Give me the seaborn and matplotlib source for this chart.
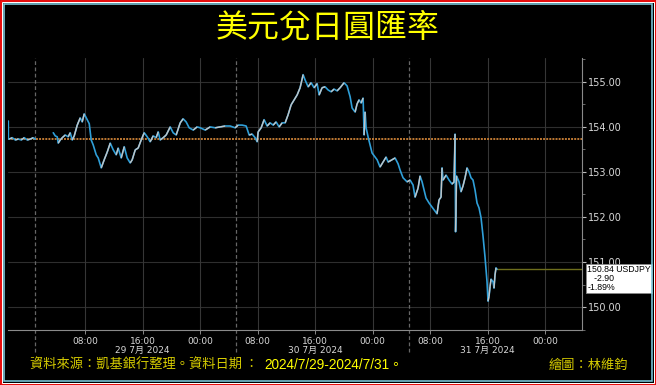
import numpy as np
import pandas as pd
import matplotlib
matplotlib.use("Agg")
import matplotlib.pyplot as plt
import matplotlib.transforms as mtransforms
from matplotlib.collections import LineCollection
from matplotlib.patches import Rectangle
import seaborn as sns

# ---------------- data (hours from 29 Jul 00:00, USDJPY price) ----------------
pre_hours = [-2.71, -2.70, -2.57, -2.16, -1.74, -1.32, -0.90, -0.49, -0.07, 0.35, 0.76, 1.04]
pre_price = [154.13, 153.73, 153.73, 153.76, 153.71, 153.73, 153.71, 153.76, 153.71, 153.73, 153.76, 153.73]

main_hours = [3.55, 3.83, 4.10, 4.24, 4.52, 4.80, 5.22, 5.63, 5.91, 6.19, 6.47, 6.89, 7.30, 7.58, 7.86,
              8.28, 8.56, 8.83, 9.11, 9.53, 9.81, 10.23, 10.64, 11.06, 11.48, 11.90, 12.31, 12.59, 13.01,
              13.43, 13.84, 14.26, 14.54, 14.96, 15.37, 15.79, 16.21, 16.63, 17.04, 17.46, 17.88, 18.16,
              18.43, 18.85, 19.27, 19.83, 20.24, 20.66, 21.22, 21.63, 22.05, 22.47, 23.03, 23.58, 24.00,
              24.70, 25.39, 26.09, 26.78, 27.48, 28.17, 28.87, 29.29, 29.84, 30.40, 30.82, 31.23, 31.65,
              31.93, 32.07, 32.49, 32.90, 33.32, 33.74, 34.16, 34.57, 34.99, 35.41, 35.83, 36.24, 36.66,
              37.08, 37.50, 37.91, 38.33, 38.61, 39.03, 39.44, 39.86, 40.28, 40.56, 40.97, 41.39, 41.81,
              42.23, 42.64, 43.06, 43.48, 44.03, 44.45, 44.87, 45.15, 45.57, 45.84, 46.12, 46.40, 46.68,
              46.82, 46.96, 47.10, 47.37, 47.65, 47.93, 48.35, 48.63, 49.04, 49.46, 49.88, 50.16, 50.71,
              51.13, 51.55, 51.83, 52.24, 52.80, 53.22, 53.63, 53.91, 54.33, 54.61, 54.89, 55.17, 55.44,
              55.86, 56.28, 56.70, 56.97, 57.25, 57.53, 57.67, 57.81, 58.23, 58.64, 59.06, 59.34, 59.48,
              59.55, 59.69, 60.03, 60.31, 60.59, 60.87, 61.15, 61.43, 61.70, 61.98, 62.26, 62.54, 62.82,
              63.10, 63.37, 63.65, 63.93, 64.07, 64.21, 64.35, 64.49, 64.77, 64.90, 65.04, 65.18, 65.32]
main_price = [153.87, 153.80, 153.78, 153.64, 153.71, 153.76, 153.82, 153.78, 153.87, 153.71, 153.80,
              154.04, 154.20, 154.11, 154.29, 154.16, 154.07, 153.71, 153.60, 153.38, 153.31, 153.09,
              153.27, 153.44, 153.64, 153.49, 153.38, 153.53, 153.31, 153.56, 153.31, 153.20, 153.27,
              153.49, 153.53, 153.71, 153.87, 153.78, 153.67, 153.80, 153.76, 153.89, 153.71, 153.76,
              153.82, 154.00, 153.87, 153.82, 154.09, 154.18, 154.11, 153.98, 153.93, 154.00, 153.98,
              153.93, 154.00, 153.98, 154.00, 154.02, 154.02, 153.98, 154.04, 154.04, 154.02, 153.82,
              153.84, 153.76, 153.67, 153.89, 153.98, 154.16, 154.02, 154.09, 154.04, 154.11, 154.00,
              154.09, 154.09, 154.27, 154.49, 154.60, 154.71, 154.87, 155.16, 155.04, 154.89, 154.98,
              154.87, 154.96, 154.71, 154.87, 154.89, 154.82, 154.78, 154.84, 154.80, 154.87, 154.98,
              154.91, 154.67, 154.42, 154.33, 154.51, 154.60, 154.53, 154.64, 153.82, 154.33, 153.98,
              153.78, 153.60, 153.42, 153.33, 153.27, 153.11, 153.22, 153.33, 153.22, 153.27, 153.31,
              153.18, 153.04, 152.87, 152.78, 152.82, 152.71, 152.44, 152.64, 152.91, 152.78, 152.60,
              152.42, 152.31, 152.22, 152.13, 152.07, 152.38, 152.44, 153.09, 152.82, 152.93, 152.82,
              152.73, 152.78, 153.84, 151.67, 152.91, 152.78, 152.56, 152.69, 152.87, 153.09, 153.00,
              152.87, 152.82, 152.60, 152.31, 152.20, 151.98, 151.58, 151.11, 150.56, 150.13, 150.24,
              150.45, 150.62, 150.56, 150.42, 150.71, 150.87, 150.84]

ref_price = 153.73
last_price = 150.84
last_change = "-2.90"
last_pct = "-1.89%"
ticker = "USDJPY"

y_ticks = [150, 151, 152, 153, 154, 155]
x_ticks = [8, 16, 24, 32, 40, 48, 56, 64, 72]
x_tick_labels = ["08:00", "16:00", "00:00", "08:00", "16:00", "00:00", "08:00", "16:00", "00:00"]
day_positions = [16, 40, 64]
day_labels = ["29 7月 2024", "30 7月 2024", "31 7月 2024"]
day_breaks = [1.04, 29.0, 53.0]

title = "美元兌日圓匯率"
source_text = "資料來源：凱基銀行整理。資料日期 ："
date_text = "2024/7/29-2024/7/31。"
author_text = "繪圖：林維鈞"

# ---------------- figure ----------------
sns.set_theme(style="dark")
plt.rcParams['font.family'] = ['DejaVu Sans', 'Noto Sans CJK TC']

W, H = 656, 385
fig = plt.figure(figsize=(W / 100, H / 100), dpi=100, facecolor="black")
ax = fig.add_axes([8 / W, 1 - 330 / H, (582 - 8) / W, (330 - 58) / H])
ax.set_facecolor("black")

df = pd.DataFrame({
    "hour": pre_hours + main_hours,
    "price": pre_price + main_price,
    "seg": [0] * len(pre_hours) + [1] * len(main_hours),
})

blue = "#2f9fd8"
grey = "#c4c4c4"

# grid
for yv in y_ticks:
    ax.axhline(yv, color="#2e2e2e", lw=0.8, zorder=1)
for xv in x_ticks:
    ax.axvline(xv, color="#363636", lw=0.8, zorder=1)
for xv in day_breaks:
    ax.axvline(xv, ymin=-0.081, ymax=1.0, color="#666666", lw=0.9, ls=(0, (3, 2)),
               clip_on=False, zorder=1)

# reference line (previous close) and last-price line
ax.axhline(ref_price, color="#c07a34", lw=1.4, ls=(0, (1, 0.6)), zorder=2)
ax.plot([main_hours[-1], 77.15], [last_price, last_price], color="#6e6e1c", lw=1.0, zorder=2)

sns.lineplot(data=df, x="hour", y="price", units="seg", estimator=None, sort=False,
             color=blue, lw=1.2, ax=ax, zorder=3, legend=False)

# up-moves in light grey
for hs, ps in [(pre_hours, pre_price), (main_hours, main_price)]:
    segs = [[(hs[i], ps[i]), (hs[i + 1], ps[i + 1])]
            for i in range(len(hs) - 1) if ps[i + 1] > ps[i]]
    ax.add_collection(LineCollection(segs, colors=grey, linewidths=1.0, zorder=4))

ax.set_xlim(-2.75, 77.15)
ax.set_ylim(149.49, 155.53)
ax.set_xlabel("")
ax.set_ylabel("")

# axes / ticks
for s in ["left", "top"]:
    ax.spines[s].set_visible(False)
for s in ["bottom", "right"]:
    ax.spines[s].set_visible(True)
    ax.spines[s].set_color("#8a8a8a")
    ax.spines[s].set_linewidth(0.8)

ax.yaxis.tick_right()
ax.set_yticks(y_ticks)
ax.set_yticklabels([f"{v:.2f}" for v in y_ticks])
ax.set_yticks(np.arange(149.5, 155.6, 0.5), minor=True)
ax.tick_params(axis="y", which="major", length=3, width=0.8, color="#bbbbbb",
               labelsize=7, labelcolor="#d8d8d8", pad=1.5, right=True, left=False)
ax.tick_params(axis="y", which="minor", length=2, width=0.6, color="#777777", right=True, left=False)

labels = []
for xv, lab in zip(x_ticks, x_tick_labels):
    if xv in day_positions:
        lab = lab + "\n" + day_labels[day_positions.index(xv)]
    labels.append(lab)
ax.set_xticks(x_ticks)
ax.set_xticklabels(labels, linespacing=1.05)
ax.tick_params(axis="x", length=3, width=0.7, color="#888888", labelsize=6.5,
               labelcolor="#d8d8d8", pad=2, bottom=True)
ax.grid(False)

# last-price box
trans = mtransforms.blended_transform_factory(ax.transAxes, ax.transData)
ax.text(1.009, 150.93, f"{last_price:.2f} {ticker}\n   {last_change}\n{last_pct}",
        transform=trans, ha="left", va="top", fontsize=6.3, color="black",
        family=["Liberation Sans", "DejaVu Sans"],
        linespacing=1.0, clip_on=False, zorder=6,
        bbox=dict(boxstyle="square,pad=0.15", fc="white", ec="#888888", lw=0.6))

# titles / footer
cjk = ["Noto Sans CJK TC", "DejaVu Sans"]
fig.text(0.5, 1 - 27 / H, title, ha="center", va="center", fontsize=23, color="#ffff00", family=cjk)
fig.text(30 / W, 1 - 365 / H, source_text, ha="left", va="center", fontsize=9.5, color="#d6cc00",
         family=cjk)
fig.text(264 / W, 1 - 365 / H, date_text, ha="left", va="center", fontsize=9.8, color="#ffff00",
         family=["Liberation Sans", "Noto Sans CJK TC"])
fig.text(628 / W, 1 - 365 / H, author_text, ha="right", va="center", fontsize=9.5, color="#d6cc00",
         family=cjk)

# frame borders
def frame(inset, color, lw_px):
    fig.patches.append(Rectangle((inset / W, inset / H), 1 - 2 * inset / W, 1 - 2 * inset / H,
                                 transform=fig.transFigure, fill=False, ec=color,
                                 lw=lw_px * 0.72, zorder=10))

frame(0.9, "#ff1010", 1.8)
frame(2.3, "#ffffff", 1.0)
frame(3.8, "#7cc8dc", 1.6)

fig.savefig("out.png", dpi=100, facecolor="black")
